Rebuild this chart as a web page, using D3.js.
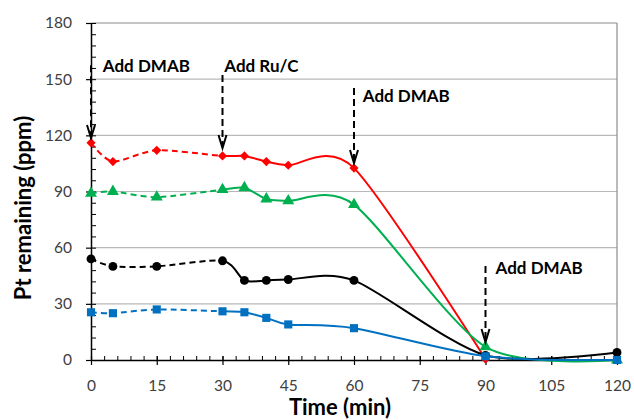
<!DOCTYPE html>
<html><head><meta charset="utf-8">
<script src="https://cdn.jsdelivr.net/npm/d3@7"></script>
<style>body{margin:0;background:#fff}svg{display:block}</style>
</head><body>
<svg id="c" width="634" height="420"></svg>
<script>
// ---- data ----
const times = [0, 5, 15, 30, 35, 40, 45, 60, 90, 120];
const redVals   = [116, 106, 112, 109, 109, 106, 104, 102.5, 0.5, null];
const greenVals = [89, 90, 87, 91, 92, 86, 85, 83, 7, 0];
const blackVals = [54, 50, 50, 53, 42.5, 42.5, 43, 42.5, 2.5, 4];
const blueVals  = [25.5, 25, 27, 26, 25.5, 22.5, 19, 17, 2, 0];
const yTicks = [0, 30, 60, 90, 120, 150, 180];
const xTicks = [0, 15, 30, 45, 60, 75, 90, 105, 120];
const dashedUntil = 30;
const annotations = [
  {t: 0,  top: 157.5, tip: 118.6, label: "Add DMAB", lx: 2.7,  ly: 157},
  {t: 30, top: 152.2, tip: 113.2, label: "Add Ru/C", lx: 30.4, ly: 157},
  {t: 60, top: 145.3, tip: 105.2, label: "Add DMAB", lx: 62,   ly: 141},
  {t: 90, top: 50.2,  tip: 9.6,   label: "Add DMAB", lx: 92.3, ly: 49}
];
const seriesList = [
  {name: "red",   vals: redVals,   color: "#FF0000", sym: "diamond"},
  {name: "green", vals: greenVals, color: "#00B050", sym: "triangle"},
  {name: "black", vals: blackVals, color: "#000000", sym: "circle"},
  {name: "blue",  vals: blueVals,  color: "#0070C0", sym: "square"}
];

// ---- layout ----
const svg = d3.select("#c");
const L = 91, R = 617, T = 23, B = 360;
const x = d3.scaleLinear().domain([0, 120]).range([L, R]);
const y = d3.scaleLinear().domain([0, 180]).range([B, T]);
const FONT = "Lato, 'Open Sans', sans-serif";

// gridlines
svg.append("g").selectAll("line").data(yTicks.filter(v => v > 0)).join("line")
  .attr("x1", L).attr("x2", R).attr("y1", d => y(d)).attr("y2", d => y(d))
  .attr("stroke", d => d === 180 ? "#8c8c8c" : "#b8b8b8").attr("stroke-width", 1.2);
// right border
svg.append("line").attr("x1", R).attr("x2", R).attr("y1", y(180)).attr("y2", y(0))
  .attr("stroke", "#8c8c8c").attr("stroke-width", 1.2);

// minor ticks (inside)
const xMinor = d3.range(0, 121, 3);
const yMinor = d3.range(0, 181, 6);
svg.append("g").attr("transform", `translate(0,${B})`)
  .call(d3.axisTop(x).tickValues(xMinor).tickSize(4).tickFormat(""))
  .call(g => g.select(".domain").remove())
  .call(g => g.selectAll("line").attr("stroke", "#000").attr("stroke-width", 1));
svg.append("g").attr("transform", `translate(${L},0)`)
  .call(d3.axisRight(y).tickValues(yMinor).tickSize(5).tickFormat(""))
  .call(g => g.select(".domain").remove())
  .call(g => g.selectAll("line").attr("stroke", "#000").attr("stroke-width", 1));

// major axes
const xAxis = svg.append("g").attr("transform", `translate(0,${B})`)
  .call(d3.axisBottom(x).tickValues(xTicks).tickSize(5).tickPadding(15).tickSizeOuter(0));
const yAxis = svg.append("g").attr("transform", `translate(${L},0)`)
  .call(d3.axisLeft(y).tickValues(yTicks).tickSize(5).tickPadding(14).tickSizeOuter(0));
[xAxis, yAxis].forEach(g => {
  g.select(".domain").attr("stroke", "#000").attr("stroke-width", 1.5);
  g.selectAll(".tick line").attr("stroke", "#000").attr("stroke-width", 1.2);
  g.selectAll("text").attr("font-family", FONT).attr("font-size", 15.5).attr("fill", "#404040");
});
xAxis.selectAll(".tick line").attr("y1", -4);

// clip paths for dashed / solid parts
const defs = svg.append("defs");
defs.append("clipPath").attr("id", "clipDash").append("rect")
  .attr("x", 0).attr("y", 0).attr("width", x(dashedUntil)).attr("height", 420);
defs.append("clipPath").attr("id", "clipSolid").append("rect")
  .attr("x", x(dashedUntil)).attr("y", 0).attr("width", 634 - x(dashedUntil)).attr("height", 420);

const line = d3.line()
  .defined(d => d.v !== null)
  .x(d => x(d.t)).y(d => y(d.v))
  .curve(d3.curveCardinal.tension(0.2));

const symType = {
  diamond: d3.symbolSquare, triangle: d3.symbolTriangle,
  circle: d3.symbolCircle, square: d3.symbolSquare
};
const symSize = {diamond: 42, triangle: 62, circle: 62, square: 66};

seriesList.forEach(s => {
  const pts = times.map((t, i) => ({t, v: s.vals[i]})).filter(d => d.v !== null);
  const g = svg.append("g");
  g.append("path").attr("d", line(pts)).attr("fill", "none")
    .attr("stroke", s.color).attr("stroke-width", 2)
    .attr("stroke-dasharray", "6,4").attr("clip-path", "url(#clipDash)");
  g.append("path").attr("d", line(pts)).attr("fill", "none")
    .attr("stroke", s.color).attr("stroke-width", 2)
    .attr("clip-path", "url(#clipSolid)");
  g.selectAll("path.m").data(pts).join("path").attr("class", "m")
    .attr("d", d3.symbol().type(symType[s.sym]).size(symSize[s.sym]))
    .attr("transform", d => `translate(${x(d.t)},${y(d.v)})` + (s.sym === "diamond" ? " rotate(45)" : ""))
    .attr("fill", s.color);
});

// annotations
const ag = svg.append("g");
annotations.forEach(a => {
  const ax = x(a.t);
  ag.append("line").attr("x1", ax).attr("x2", ax).attr("y1", y(a.top)).attr("y2", y(a.tip) - 1)
    .attr("stroke", "#000").attr("stroke-width", 2).attr("stroke-dasharray", "7,4");
  ag.append("path")
    .attr("d", d3.line()([[ax - 4, y(a.tip) - 13], [ax, y(a.tip)], [ax + 4, y(a.tip) - 13]]))
    .attr("fill", "none").attr("stroke", "#000").attr("stroke-width", 2);
  ag.append("text").attr("x", x(a.lx)).attr("y", y(a.ly) + 6)
    .attr("font-family", FONT).attr("font-weight", "bold").attr("font-size", 17)
    .attr("fill", "#000").text(a.label);
});

// axis titles
svg.append("text").attr("x", 340).attr("y", 415).attr("text-anchor", "middle")
  .attr("font-family", FONT).attr("font-weight", "bold").attr("font-size", 22)
  .attr("fill", "#000").text("Time (min)");
svg.append("text").attr("transform", "translate(31,208) rotate(-90)").attr("text-anchor", "middle")
  .attr("font-family", FONT).attr("font-weight", "bold").attr("font-size", 22)
  .attr("fill", "#000").text("Pt remaining (ppm)");
</script>
</body></html>
